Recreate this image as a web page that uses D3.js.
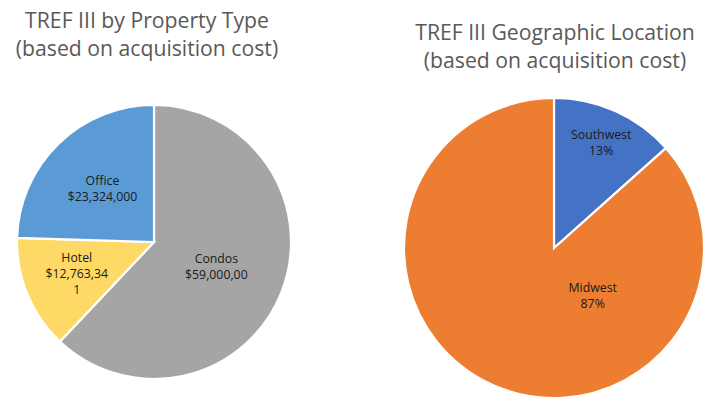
<!DOCTYPE html>
<html>
<head>
<meta charset="utf-8">
<script src="https://cdn.jsdelivr.net/npm/d3@7"></script>
<style>
  html, body { margin: 0; padding: 0; background: #fff; }
  svg { display: block; }
</style>
</head>
<body>
<svg id="chart" width="721" height="410"></svg>
<script>
// ---- Data ----
const propertyCategories = ["Condos", "Hotel", "Office"];
const propertyValues = [59000000, 12763341, 23324000];
// value labels exactly as printed (wrapped / clipped in the original)
const propertyValueLabels = [["$59,000,00"], ["$12,763,34", "1"], ["$23,324,000"]];

const geoCategories = ["Southwest", "Midwest"];
const geoValues = [13.4, 86.6];

const titleLeft = ["TREF III by Property Type", "(based on acquisition cost)"];
const titleRight = ["TREF III Geographic Location", "(based on acquisition cost)"];

// ---- Layout / style ----
const colors = {
  Condos: "#A5A5A5", Hotel: "#FFD966", Office: "#5B9BD5",
  Southwest: "#4472C4", Midwest: "#ED7D31"
};
// label placement: radius fraction and optional angle override (degrees, clockwise from top)
const labelPlacement = {
  Condos: { r: 0.49 }, Hotel: { r: 0.61 }, Office: { r: 0.54 },
  Southwest: { r: 0.77 }, Midwest: { r: 0.41, angle: 141 }
};
const fontFamily = "'Open Sans', 'Liberation Sans', sans-serif";

const svg = d3.select("#chart");

function drawTitle(lines, cx, y0, lineH) {
  const t = svg.append("text")
    .attr("text-anchor", "middle")
    .attr("font-family", fontFamily)
    .attr("font-size", 21.2)
    .attr("fill", "#595959");
  lines.forEach((l, i) => {
    t.append("tspan").attr("x", cx).attr("y", y0 + i * lineH).text(l);
  });
}

function drawPie(cats, vals, labelFn, cx, cy, r) {
  const data = cats.map((c, i) => ({ cat: c, value: vals[i], idx: i }));
  const pie = d3.pie().sort(null).value(d => d.value);
  const arc = d3.arc().innerRadius(0).outerRadius(r);
  const arcs = pie(data);
  const g = svg.append("g").attr("transform", `translate(${cx},${cy})`);
  g.selectAll("path.slice").data(arcs).enter().append("path")
    .attr("class", "slice")
    .attr("d", arc)
    .attr("fill", d => colors[d.data.cat])
    .attr("stroke", "#fff")
    .attr("stroke-width", 2.2)
    .attr("stroke-linejoin", "miter");

  const total = d3.sum(vals);
  arcs.forEach(a => {
    const p = labelPlacement[a.data.cat];
    const ang = p.angle !== undefined ? p.angle * Math.PI / 180 : (a.startAngle + a.endAngle) / 2;
    const lr = r * p.r;
    const x = Math.sin(ang) * lr, y = -Math.cos(ang) * lr;
    const lines = [a.data.cat].concat(labelFn(a.data, total));
    const lh = 16;
    const t = g.append("text")
      .attr("text-anchor", "middle")
      .attr("font-family", fontFamily)
      .attr("font-size", 12.3)
      .attr("fill", "#1a1a1a");
    lines.forEach((l, i) => {
      t.append("tspan")
        .attr("x", x)
        .attr("y", y + (i - (lines.length - 1) / 2) * lh + 4.5)
        .text(l);
    });
  });
}

drawTitle(titleLeft, 147, 28, 28);
drawTitle(titleRight, 555, 40, 28);

drawPie(propertyCategories, propertyValues,
  (d) => propertyValueLabels[d.idx], 154, 242, 137);

drawPie(geoCategories, geoValues,
  (d, total) => [Math.round(d.value / total * 100) + "%"], 554, 248, 150);
</script>
</body>
</html>
